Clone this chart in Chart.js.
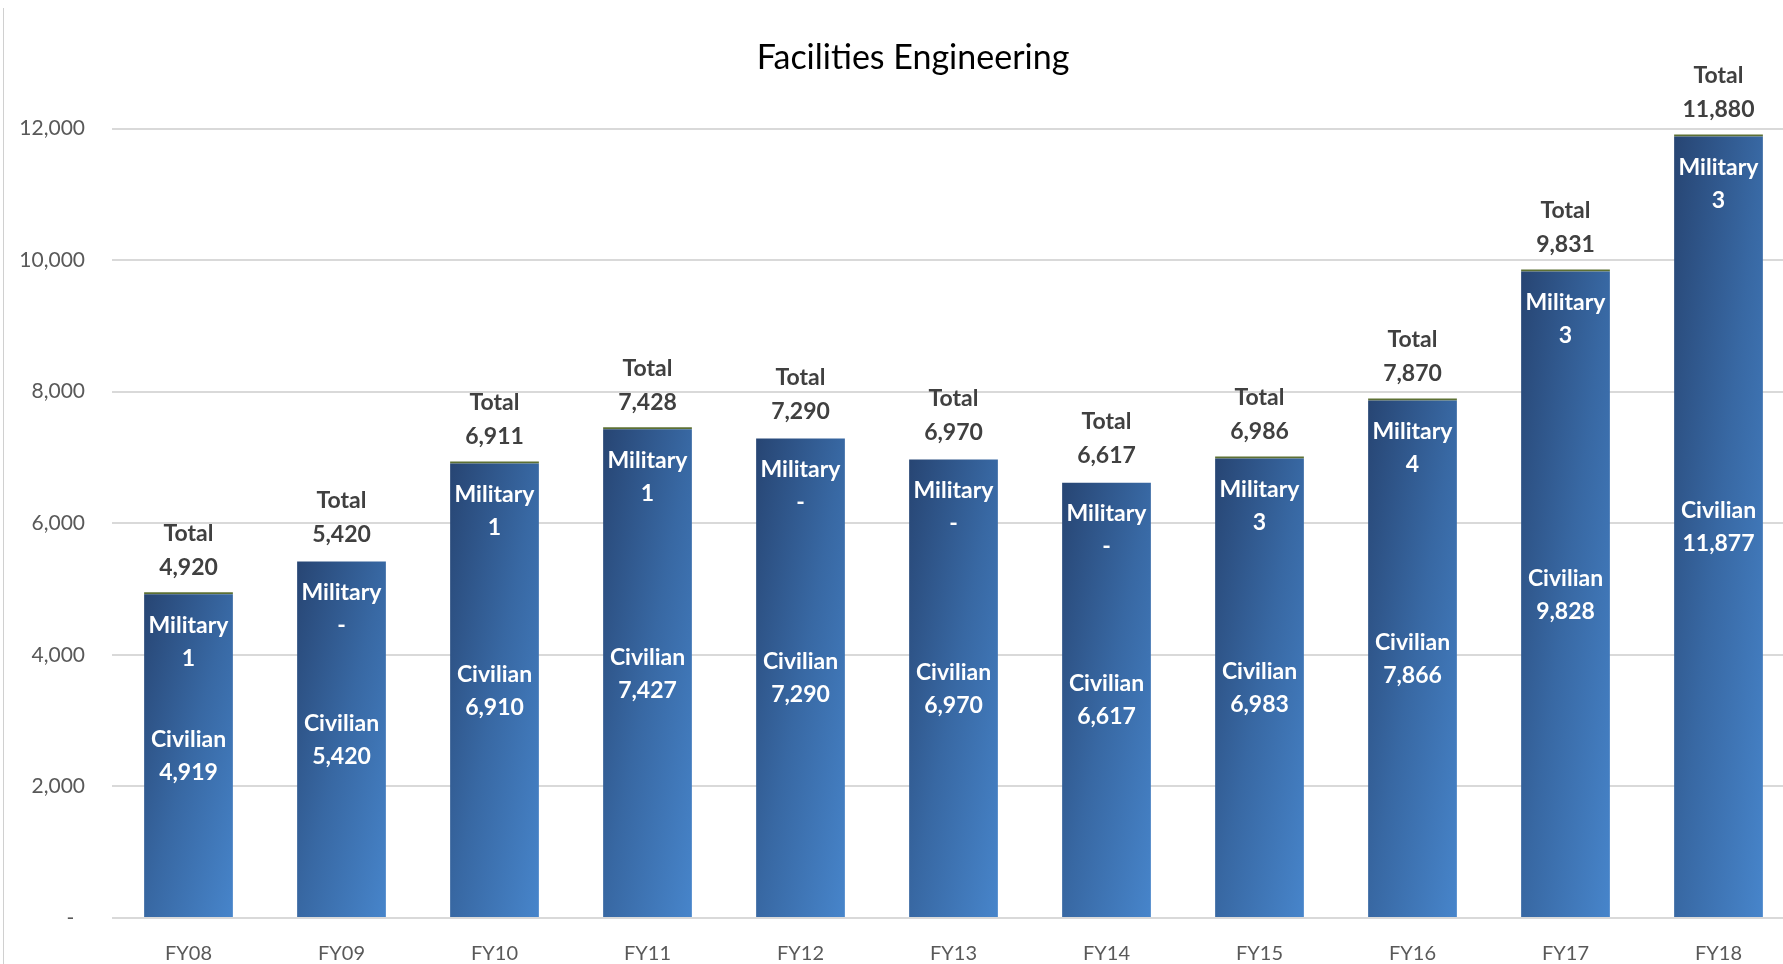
<!DOCTYPE html>
<html>
<head>
<meta charset="utf-8">
<script src="https://cdn.jsdelivr.net/npm/chart.js@4.4.1/dist/chart.umd.min.js"></script>
<style>
    body { margin: 0; overflow: hidden; background: #fff; }
    .frame { position: absolute; left: 3px; top: 8px; bottom: 0; border-left: 1px solid #d0d0d0; }
    canvas { position: absolute; left: 0; top: 0; }
</style>
</head>
<body>
<div class="frame"></div>
<canvas id="feChart" width="1800" height="964"></canvas>
<script>
const years = ['FY08', 'FY09', 'FY10', 'FY11', 'FY12', 'FY13', 'FY14', 'FY15', 'FY16', 'FY17', 'FY18'];
const civilian = [4919, 5420, 6910, 7427, 7290, 6970, 6617, 6983, 7866, 9828, 11877];
const military = [1, 0, 1, 1, 0, 0, 0, 3, 4, 3, 3];
const totals = [4920, 5420, 6911, 7428, 7290, 6970, 6617, 6986, 7870, 9831, 11880];
const yTicks = [0, 2000, 4000, 6000, 8000, 10000, 12000];
const chartTitle = 'Facilities Engineering';

const FONT = 'Lato, "Open Sans", sans-serif';
const BAR_PCT = 0.58;

function fmt(v) {
    return v === 0 ? '-' : v.toLocaleString('en-US');
}

// diagonal gradient across each bar's box (dark top-left, light bottom-right)
function barFill(ctx) {
    const chart = ctx.chart;
    if (ctx.type !== 'data' || !chart.chartArea) return '#3868a3';
    const xs = chart.scales.x, ys = chart.scales.y;
    const i = ctx.dataIndex;
    const w = xs.width / years.length * BAR_PCT;
    const left = xs.getPixelForValue(i) - w / 2;
    const top = ys.getPixelForValue(totals[i]);
    const h = ys.getPixelForValue(0) - top;
    const k = 2 * w * h / (h * h + w * w);
    const g = chart.ctx.createLinearGradient(left, top, left + h * k, top + w * k);
    g.addColorStop(0, '#274573');
    g.addColorStop(0.5, '#3868a3');
    g.addColorStop(1, '#4785cb');
    return g;
}

const barLabels = {
    id: 'barLabels',
    afterDatasetsDraw(chart) {
        const c = chart.ctx;
        const bars = chart.getDatasetMeta(0).data;
        c.save();
        c.textAlign = 'center';
        c.textBaseline = 'middle';

        // title, centred over the (partly cropped) plot
        c.fillStyle = '#000000';
        c.font = '34px ' + FONT;
        c.fillText(chartTitle, 913, 58);

        c.font = 'bold 23px ' + FONT;
        bars.forEach((bar, i) => {
            const top = bar.y;
            const mid = (bar.y + bar.base) / 2;
            c.fillStyle = '#ffffff';
            c.fillText('Civilian', bar.x, mid - 16);
            c.fillText(fmt(civilian[i]), bar.x, mid + 17);
            c.fillText('Military', bar.x, top + 31);
            c.fillText(fmt(military[i]), bar.x, top + 64);
            c.fillStyle = '#404040';
            c.fillText('Total', bar.x, top - 61);
            c.fillText(fmt(totals[i]), bar.x, top - 27);
        });
        c.restore();
    }
};

const ctxFe = document.getElementById('feChart').getContext('2d');
new Chart(ctxFe, {
    type: 'bar',
    data: {
        labels: years,
        datasets: [{
            label: 'Civilian',
            data: civilian,
            backgroundColor: barFill,
            barPercentage: BAR_PCT,
            categoryPercentage: 1
        },
        {
            label: 'Military',
            data: military,
            backgroundColor: ctx => military[ctx.dataIndex] ? '#5d7034' : 'rgba(0,0,0,0)',
            minBarLength: 2,
            barPercentage: BAR_PCT,
            categoryPercentage: 1
        }]
    },
    options: {
        responsive: false,
        animation: false,
        layout: { padding: { left: 0, right: 5, top: 128.5, bottom: 0 } },
        plugins: {
            legend: { display: false },
            tooltip: { enabled: false },
            title: { display: false }
        },
        scales: {
            x: {
                stacked: true,
                grid: { display: false },
                border: { display: false },
                ticks: { color: '#595959', font: { family: FONT, size: 20 }, padding: 16 },
                afterFit: s => { s.height = 46; }
            },
            y: {
                stacked: true,
                min: 0,
                max: 12000,
                afterBuildTicks: s => { s.ticks = yTicks.map(v => ({ value: v })); },
                grid: { color: '#d9d9d9', lineWidth: 2, drawTicks: false },
                border: { display: false },
                ticks: {
                    color: '#595959',
                    font: { family: FONT, size: 21 },
                    padding: 27,
                    callback: v => v === 0 ? '-  ' : v.toLocaleString('en-US')
                },
                afterFit: s => { s.width = 112; }
            }
        }
    },
    plugins: [barLabels]
});
</script>
</body>
</html>
